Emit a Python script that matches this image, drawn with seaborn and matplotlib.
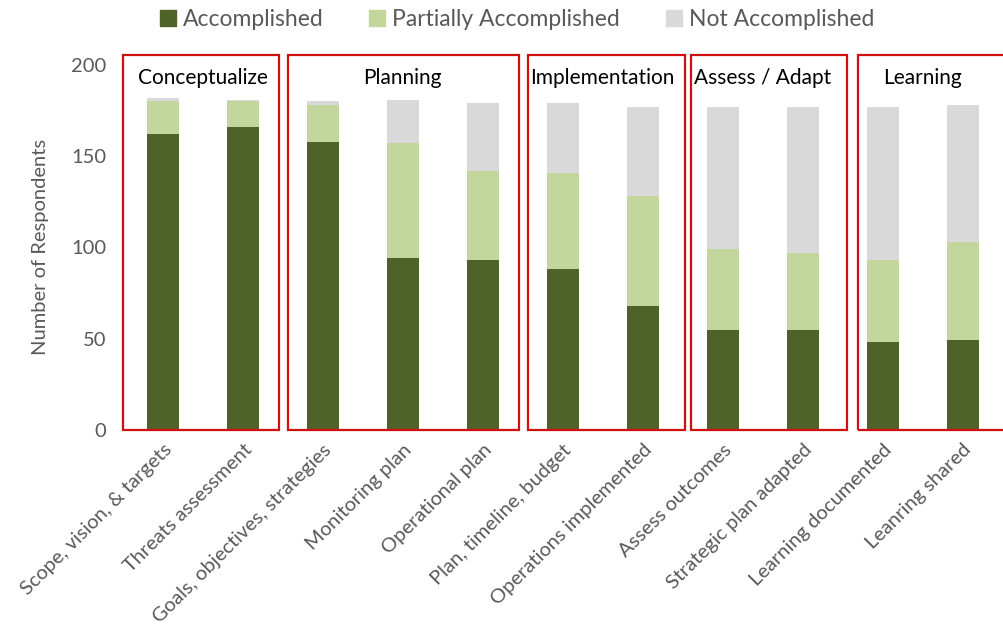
import seaborn as sns
import matplotlib.pyplot as plt
import matplotlib.patches as mpatches
import numpy as np
import pandas as pd

# values
categories = ["Scope, vision, & targets", "Threats assessment", "Goals, objectives, strategies",
              "Monitoring plan", "Operational plan", "Plan, timeline, budget",
              "Operations implemented", "Assess outcomes", "Strategic plan adapted",
              "Learning documented", "Leanring shared"]
accomplished = [162, 166, 158, 94, 93, 88, 68, 55, 55, 48, 49]
partial = [18, 14, 20, 63, 49, 53, 60, 44, 42, 45, 54]
not_accomplished = [2, 1, 2, 24, 37, 38, 49, 78, 80, 84, 75]
series_names = ["Accomplished", "Partially Accomplished", "Not Accomplished"]

# groups: (title, first index, last index)
groups = [("Conceptualize", 0, 1), ("Planning", 2, 4), ("Implementation", 5, 6),
          ("Assess / Adapt", 7, 8), ("Learning", 9, 10)]

colors = ["#4F6228", "#C3D69B", "#D9D9D9"]
text_grey = "#595959"

sns.set_theme(style="white")
plt.rcParams['font.family'] = ['Lato', 'DejaVu Sans']

df = pd.DataFrame({"cat": categories, "acc": accomplished,
                   "part": partial, "notacc": not_accomplished})
df["top1"] = df["acc"]
df["top2"] = df["acc"] + df["part"]
df["top3"] = df["top2"] + df["notacc"]

fig = plt.figure(figsize=(10.04, 6.36), dpi=100)
ax = fig.add_axes([0.1225, 0.324, 0.876, 0.574])

# stacked bars drawn as layered cumulative totals
for col, c in zip(["top3", "top2", "top1"], colors[::-1]):
    sns.barplot(data=df, x="cat", y=col, color=c, width=0.4, saturation=1,
                linewidth=0, ax=ax)

ax.set_xlim(-0.5, 10.5)
ax.set_ylim(0, 200)
ax.set_yticks([0, 50, 100, 150, 200])
ax.set_xlabel("")
ax.set_ylabel("Number of Respondents", fontsize=14.5, color=text_grey, labelpad=16)
ax.tick_params(axis="y", labelsize=14.5, labelcolor=text_grey, length=0, pad=12)
ax.tick_params(axis="x", labelsize=14.5, labelcolor=text_grey, length=0, pad=8)
plt.setp(ax.get_xticklabels(), rotation=45, ha="right", rotation_mode="anchor")
for s in ax.spines.values():
    s.set_visible(False)

# red boxes around the phases
box_edges = [(-0.5, 1.45), (1.56, 4.45), (4.56, 6.53), (6.61, 8.56), (8.69, 10.7)]
for (title, i0, i1), (x0, x1) in zip(groups, box_edges):
    rect = mpatches.Rectangle((x0, 0), x1 - x0, 205.5, fill=False,
                              edgecolor="#D01010", linewidth=1.6, clip_on=False, zorder=5)
    ax.add_patch(rect)
    ax.text((i0 + i1) / 2, 193, title, ha="center", va="center",
            fontsize=15, color="black")

handles = [mpatches.Patch(color=c, label=n) for c, n in zip(colors, series_names)]
fig.legend(handles=handles, loc="upper center", bbox_to_anchor=(0.515, 1.018), ncol=3,
           frameon=False, fontsize=16.5, handlelength=0.7, handleheight=0.7,
           handletextpad=0.3, columnspacing=2.0, labelcolor=text_grey)

fig.savefig("out.png", dpi=100)
